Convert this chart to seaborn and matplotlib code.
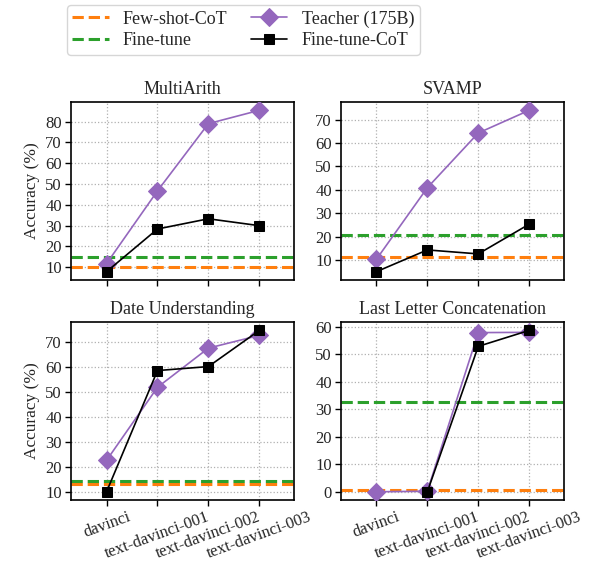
import numpy as np
import pandas as pd
import matplotlib
matplotlib.use("Agg")
import matplotlib.pyplot as plt
from matplotlib.ticker import MultipleLocator
import seaborn as sns

models = ["davinci", "text-davinci-001", "text-davinci-002", "text-davinci-003"]
tasks = ["MultiArith", "SVAMP", "Date Understanding", "Last Letter Concatenation"]

teacher = {
    "MultiArith": [11.8, 46.7, 79.0, 85.4],
    "SVAMP": [10.3, 40.9, 64.3, 74.0],
    "Date Understanding": [22.6, 51.9, 67.6, 72.7],
    "Last Letter Concatenation": [0.0, 0.2, 57.9, 58.0],
}
ft_cot = {
    "MultiArith": [7.9, 28.4, 33.3, 30.0],
    "SVAMP": [5.0, 14.3, 12.6, 25.3],
    "Date Understanding": [10.0, 58.6, 60.2, 74.7],
    "Last Letter Concatenation": [np.nan, 0.0, 52.9, 58.7],
}
few_shot_cot = {"MultiArith": 10.0, "SVAMP": 11.4, "Date Understanding": 13.2,
                "Last Letter Concatenation": 0.6}
fine_tune = {"MultiArith": 15.0, "SVAMP": 20.6, "Date Understanding": 14.4,
             "Last Letter Concatenation": 32.7}

sns.set_theme(style="ticks")
plt.rcParams["font.family"] = ["Liberation Serif", "DejaVu Serif"]

fig, axes = plt.subplots(2, 2, figsize=(5.91, 5.68), dpi=100)
fig.subplots_adjust(left=0.120, right=0.954, top=0.820, bottom=0.120,
                    hspace=0.24, wspace=0.21)

pos = np.arange(len(models))
for ax, task in zip(axes.flat, tasks):
    ax.axhline(few_shot_cot[task], color="#ff7f0e", ls="--", lw=2.2,
               label="Few-shot-CoT", zorder=2)
    ax.axhline(fine_tune[task], color="#2ca02c", ls="--", lw=2.2,
               label="Fine-tune", zorder=2)
    df_t = pd.DataFrame({"x": pos, "y": teacher[task]})
    df_f = pd.DataFrame({"x": pos, "y": ft_cot[task]})
    sns.lineplot(data=df_t, x="x", y="y", ax=ax, color="#9467bd", lw=1.2,
                 marker="D", markersize=9, markeredgecolor="#9467bd",
                 label="Teacher (175B)", zorder=3)
    sns.lineplot(data=df_f, x="x", y="y", ax=ax, color="black", lw=1.2,
                 marker="s", markersize=7, markeredgecolor="black",
                 label="Fine-tune-CoT", zorder=4)
    ax.set_title(task, fontsize=13)
    ax.set_xlim(-0.7, 3.68)
    ax.set_xticks(pos)
    ax.yaxis.set_major_locator(MultipleLocator(10))
    ax.grid(True, ls=":", color="#b0b0b0", lw=0.9)
    ax.tick_params(labelsize=12, direction="out", length=4.5, width=1, color="black", pad=2)
    for s in ax.spines.values():
        s.set_color("black")
        s.set_linewidth(1.2)
    ax.set_xlabel("")
    ax.set_ylabel("")
    ax.get_legend().remove()

for ax in axes[0]:
    ax.set_xticklabels([])
for ax in axes[1]:
    ax.set_xticklabels(models, rotation=20, ha="center")
for ax in axes[:, 0]:
    ax.set_ylabel("Accuracy (%)", fontsize=12.5)

handles, labels = axes[0, 0].get_legend_handles_labels()
fig.legend(handles, labels, loc="upper left", bbox_to_anchor=(67 / 591, 1 - 5 / 568),
           borderaxespad=0, ncol=2, fontsize=13, frameon=True, edgecolor="#cccccc",
           handlelength=2.0, columnspacing=1.3, borderpad=0.3, labelspacing=0.25)

fig.savefig("out.png", dpi=100)
